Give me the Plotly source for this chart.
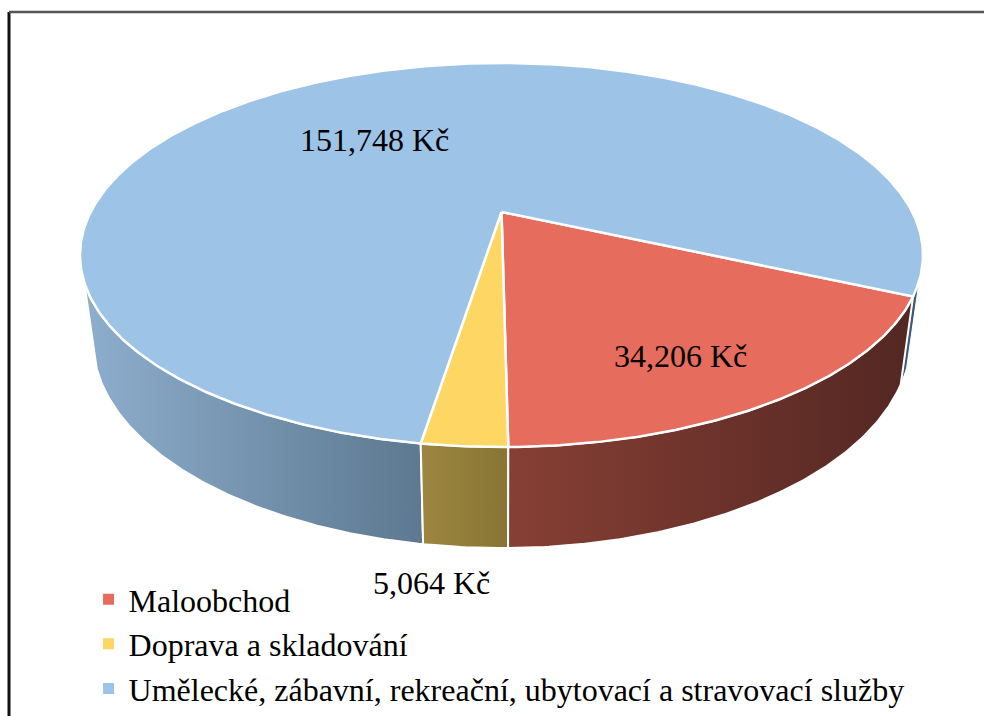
"""
3D-looking pie of revenue by sector, drawn as filled scatter traces.
Plotly has no 3D pie, so the disc is projected by hand from the slice values.
"""

import numpy as np
import plotly.graph_objects as go

categories = ['Maloobchod', 'Doprava a skladování',
              'Umělecké, zábavní, rekreační, ubytovací a stravovací služby']
values = [34206, 5064, 151748]
value_labels = ['34,206 Kč', '5,064 Kč', '151,748 Kč']
top_colors = ['#E66C5D', '#FDD663', '#9DC3E6']

FONT = 'Liberation Serif'
START_ANGLE = 114.8  # first slice, degrees clockwise from the far point

# projection of the unit disc to pixels
CX, CY = 501.5, 212
A, B, K = 410.8, 182.4, 0.224


def project_top(theta):
    x, y = np.sin(theta), np.cos(theta)
    w = 1 + K * y
    return CX + A * x / w, CY - B * y / w


def project_bottom(theta):
    sx, sy = project_top(theta)
    return CX + 0.97 * (sx - CX), sy + 88 + 0.086 * (sy - 296)


def arc(d1, d2):
    n = max(int(abs(d2 - d1) * 2), 2)
    return np.radians(np.linspace(d1, d2, n))


def add_wall(fig, d1, d2, colors, line_width=2):
    t = arc(d1, d2)
    xt, yt = project_top(t)
    xb, yb = project_bottom(t)
    fig.add_trace(go.Scatter(
        x=np.r_[xt, xb[::-1], xt[0]],
        y=np.r_[yt, yb[::-1], yt[0]],
        mode='lines',
        fill='toself',
        line=dict(color='white', width=line_width),
        fillgradient=dict(type='horizontal',
                          colorscale=[[0, colors[0]], [1, colors[1]]]),
        hoverinfo='skip',
        showlegend=False
    ))


fig = go.Figure()

# slice angles from the values
shares = np.array(values) / sum(values) * 360
edges = START_ANGLE + np.r_[0, np.cumsum(shares)]

# side walls, back to front
add_wall(fig, edges[0] - 4.5, edges[0], ['#3F5A75', '#3F5A75'], line_width=1)
add_wall(fig, edges[2], 249.2, ['#8DAECD', '#5D7890'])
add_wall(fig, edges[1], edges[2], ['#9C8640', '#887534'])
add_wall(fig, edges[0], edges[1], ['#873F35', '#532722'])

# top faces
for i in range(len(values)):
    t = arc(edges[i], edges[i + 1])
    xt, yt = project_top(t)
    fig.add_trace(go.Scatter(
        x=np.r_[CX, xt, CX],
        y=np.r_[CY, yt, CY],
        mode='lines',
        fill='toself',
        fillcolor=top_colors[i],
        line=dict(color='white', width=2.5),
        hoverinfo='skip',
        showlegend=False
    ))

# legend entries
for name, color in zip(categories, top_colors):
    fig.add_trace(go.Scatter(
        x=[None], y=[None],
        mode='markers',
        name=name,
        legendgroup=name,
        marker=dict(symbol='square', size=11, color=color)
    ))

# data labels
label_pos = [(680, 356), (431, 583), (374, 140)]
for text, (lx, ly) in zip(value_labels, label_pos):
    fig.add_annotation(x=lx, y=ly, text=text, showarrow=False,
                       font=dict(family=FONT, size=32, color='black'))

# frame is open on the right and at the bottom
fig.add_shape(type='line', x0=9, x1=9, y0=12, y1=716,
              line=dict(color='#111111', width=3))
fig.add_shape(type='line', x0=9, x1=984, y0=12, y1=12,
              line=dict(color='#555555', width=2.5))

fig.update_layout(
    width=984,
    height=716,
    margin=dict(l=0, r=0, t=0, b=0),
    paper_bgcolor='white',
    plot_bgcolor='white',
    font=dict(family=FONT, size=32, color='black'),
    xaxis=dict(range=[0, 984], visible=False, fixedrange=True),
    yaxis=dict(range=[716, 0], visible=False, fixedrange=True),
    legend=dict(x=0.09, y=0.2012, xanchor='left', yanchor='top',
                bgcolor='rgba(0,0,0,0)', tracegroupgap=0, itemwidth=30,
                font=dict(family=FONT, size=32))
)

fig.write_html("out.html", config=dict(displayModeBar=False),
               post_script="document.body.style.margin='0';")
